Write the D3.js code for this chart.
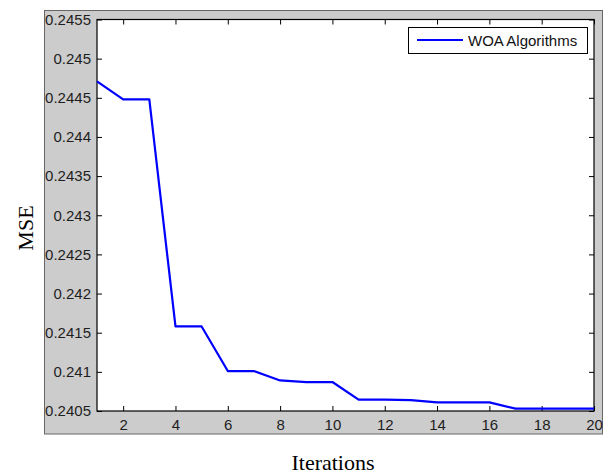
<!DOCTYPE html>
<html>
<head>
<meta charset="utf-8">
<script src="https://cdn.jsdelivr.net/npm/d3@7"></script>
<style>
  html, body { margin: 0; padding: 0; background: #ffffff; }
  svg { display: block; }
</style>
</head>
<body>
<svg id="chart" width="608" height="475"></svg>
<script>
// Convergence of the WOA optimiser: best MSE per iteration
const iterations = [1, 2, 3, 4, 5, 6, 7, 8, 9, 10, 11, 12, 13, 14, 15, 16, 17, 18, 19, 20];
const mseValues = [0.24471, 0.24448, 0.24448, 0.24158, 0.24158, 0.24101, 0.24101, 0.24089, 0.24087, 0.24087,
                   0.240645, 0.240645, 0.24064, 0.24061, 0.24061, 0.24061, 0.24053, 0.24053, 0.24053, 0.24053];
const xTicks = [2, 4, 6, 8, 10, 12, 14, 16, 18, 20];
const yTicks = [0.2405, 0.241, 0.2415, 0.242, 0.2425, 0.243, 0.2435, 0.244, 0.2445, 0.245, 0.2455];
const seriesName = "WOA Algorithms";

const svg = d3.select("#chart");
const plot = { left: 97, right: 594, top: 19.5, bottom: 411 };

// figure panel
svg.append("rect")
  .attr("x", 44.5).attr("y", 10.5)
  .attr("width", 558).attr("height", 423.5)
  .attr("fill", "#cccccc").attr("stroke", "#666666").attr("stroke-width", 1);

const x = d3.scaleLinear().domain([1, 20]).range([plot.left, plot.right]);
const y = d3.scaleLinear().domain([0.2405, 0.2455]).range([plot.bottom, plot.top]);

// axes background
svg.append("rect")
  .attr("x", plot.left).attr("y", plot.top)
  .attr("width", plot.right - plot.left).attr("height", plot.bottom - plot.top)
  .attr("fill", "#ffffff");

const fmt = d => String(+d.toFixed(4));
const tickFont = "'Liberation Sans', Arial, sans-serif";

function styleAxis(g) {
  g.select(".domain").remove();
  g.selectAll(".tick line").attr("stroke", "#000").attr("stroke-width", 1);
  g.selectAll("text")
    .attr("fill", "#1e1e1e")
    .style("font-family", tickFont)
    .style("font-size", "15px");
}

// bottom axis (ticks point inward)
svg.append("g")
  .attr("transform", `translate(0,${plot.bottom})`)
  .call(d3.axisBottom(x).tickValues(xTicks).tickSizeInner(-5).tickSizeOuter(0).tickPadding(8).tickFormat(d => d))
  .call(styleAxis);

// top mirror ticks
svg.append("g")
  .attr("transform", `translate(0,${plot.top})`)
  .call(d3.axisTop(x).tickValues(xTicks).tickSizeInner(-5).tickSizeOuter(0).tickFormat(""))
  .call(styleAxis);

// left axis
svg.append("g")
  .attr("transform", `translate(${plot.left},0)`)
  .call(d3.axisLeft(y).tickValues(yTicks).tickSizeInner(-5).tickSizeOuter(0).tickPadding(6).tickFormat(fmt))
  .call(styleAxis);

// right mirror ticks
svg.append("g")
  .attr("transform", `translate(${plot.right},0)`)
  .call(d3.axisRight(y).tickValues(yTicks).tickSizeInner(-5).tickSizeOuter(0).tickFormat(""))
  .call(styleAxis);

// axes box
svg.append("rect")
  .attr("x", plot.left).attr("y", plot.top)
  .attr("width", plot.right - plot.left).attr("height", plot.bottom - plot.top)
  .attr("fill", "none").attr("stroke", "#000").attr("stroke-width", 1.2);

// convergence curve
const line = d3.line().x((d, i) => x(iterations[i])).y(d => y(d));
svg.append("path")
  .datum(mseValues)
  .attr("d", line)
  .attr("fill", "none")
  .attr("stroke", "#0000ff")
  .attr("stroke-width", 2.2)
  .attr("stroke-linejoin", "round");

// legend
const lg = svg.append("g");
lg.append("rect")
  .attr("x", 408.5).attr("y", 27.5).attr("width", 179).attr("height", 26)
  .attr("fill", "#ffffff").attr("stroke", "#000").attr("stroke-width", 1);
lg.append("line")
  .attr("x1", 417).attr("x2", 463).attr("y1", 40).attr("y2", 40)
  .attr("stroke", "#0000ff").attr("stroke-width", 2.2);
lg.append("text")
  .attr("x", 468).attr("y", 46)
  .attr("fill", "#111")
  .style("font-family", tickFont).style("font-size", "15px")
  .text(seriesName);

// axis titles
const titleFont = "'Liberation Serif', 'Times New Roman', serif";
svg.append("text")
  .attr("x", 333).attr("y", 470)
  .attr("text-anchor", "middle")
  .style("font-family", titleFont).style("font-size", "22px")
  .text("Iterations");
svg.append("text")
  .attr("transform", "translate(33,228) rotate(-90)")
  .attr("text-anchor", "middle")
  .style("font-family", titleFont).style("font-size", "22px")
  .text("MSE");
</script>
</body>
</html>
